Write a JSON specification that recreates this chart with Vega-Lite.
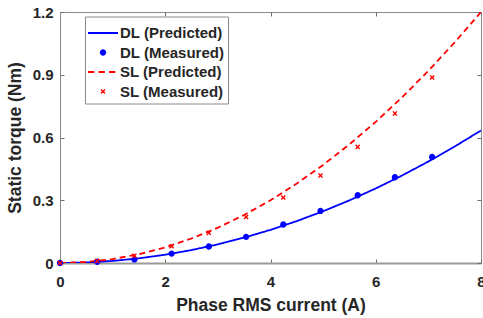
{
  "$schema": "https://vega.github.io/schema/vega-lite/v6.json",
  "width": 421,
  "height": 251,
  "autosize": {"type": "none"},
  "padding": {"left": 60, "top": 12, "right": 2, "bottom": 55},
  "background": "white",
  "config": {
    "view": {"stroke": "#8a8a8a", "strokeWidth": 1},
    "font": "Liberation Sans",
    "axis": {"grid": false}
  },
  "datasets": {
    "predicted": [
      {"series": "DL (Predicted)", "current": 0, "torque": 0},
      {"series": "DL (Predicted)", "current": 0.5, "torque": 0.0025},
      {"series": "DL (Predicted)", "current": 1, "torque": 0.0099},
      {"series": "DL (Predicted)", "current": 1.5, "torque": 0.0223},
      {"series": "DL (Predicted)", "current": 2, "torque": 0.0396},
      {"series": "DL (Predicted)", "current": 2.5, "torque": 0.0619},
      {"series": "DL (Predicted)", "current": 3, "torque": 0.0891},
      {"series": "DL (Predicted)", "current": 3.5, "torque": 0.1213},
      {"series": "DL (Predicted)", "current": 4, "torque": 0.1584},
      {"series": "DL (Predicted)", "current": 4.5, "torque": 0.2005},
      {"series": "DL (Predicted)", "current": 5, "torque": 0.2475},
      {"series": "DL (Predicted)", "current": 5.5, "torque": 0.2995},
      {"series": "DL (Predicted)", "current": 6, "torque": 0.3564},
      {"series": "DL (Predicted)", "current": 6.5, "torque": 0.4183},
      {"series": "DL (Predicted)", "current": 7, "torque": 0.4851},
      {"series": "DL (Predicted)", "current": 7.5, "torque": 0.5569},
      {"series": "DL (Predicted)", "current": 8, "torque": 0.6336},
      {"series": "SL (Predicted)", "current": 0, "torque": 0},
      {"series": "SL (Predicted)", "current": 0.5, "torque": 0.0047},
      {"series": "SL (Predicted)", "current": 1, "torque": 0.0188},
      {"series": "SL (Predicted)", "current": 1.5, "torque": 0.0422},
      {"series": "SL (Predicted)", "current": 2, "torque": 0.075},
      {"series": "SL (Predicted)", "current": 2.5, "torque": 0.1172},
      {"series": "SL (Predicted)", "current": 3, "torque": 0.1688},
      {"series": "SL (Predicted)", "current": 3.5, "torque": 0.2297},
      {"series": "SL (Predicted)", "current": 4, "torque": 0.3},
      {"series": "SL (Predicted)", "current": 4.5, "torque": 0.3797},
      {"series": "SL (Predicted)", "current": 5, "torque": 0.4688},
      {"series": "SL (Predicted)", "current": 5.5, "torque": 0.5672},
      {"series": "SL (Predicted)", "current": 6, "torque": 0.675},
      {"series": "SL (Predicted)", "current": 6.5, "torque": 0.7922},
      {"series": "SL (Predicted)", "current": 7, "torque": 0.9188},
      {"series": "SL (Predicted)", "current": 7.5, "torque": 1.0547},
      {"series": "SL (Predicted)", "current": 8, "torque": 1.2}
    ],
    "measured": [
      {"series": "DL (Measured)", "current": 0, "torque": 0},
      {"series": "DL (Measured)", "current": 0.707, "torque": 0.006},
      {"series": "DL (Measured)", "current": 1.414, "torque": 0.017},
      {"series": "DL (Measured)", "current": 2.121, "torque": 0.045},
      {"series": "DL (Measured)", "current": 2.828, "torque": 0.079},
      {"series": "DL (Measured)", "current": 3.536, "torque": 0.125},
      {"series": "DL (Measured)", "current": 4.243, "torque": 0.184},
      {"series": "DL (Measured)", "current": 4.95, "torque": 0.249},
      {"series": "DL (Measured)", "current": 5.657, "torque": 0.324},
      {"series": "DL (Measured)", "current": 6.364, "torque": 0.41},
      {"series": "DL (Measured)", "current": 7.071, "torque": 0.507},
      {"series": "SL (Measured)", "current": 0, "torque": 0},
      {"series": "SL (Measured)", "current": 0.707, "torque": 0.01},
      {"series": "SL (Measured)", "current": 1.414, "torque": 0.035},
      {"series": "SL (Measured)", "current": 2.121, "torque": 0.08},
      {"series": "SL (Measured)", "current": 2.828, "torque": 0.144},
      {"series": "SL (Measured)", "current": 3.536, "torque": 0.22},
      {"series": "SL (Measured)", "current": 4.243, "torque": 0.313},
      {"series": "SL (Measured)", "current": 4.95, "torque": 0.418},
      {"series": "SL (Measured)", "current": 5.657, "torque": 0.555},
      {"series": "SL (Measured)", "current": 6.364, "torque": 0.715},
      {"series": "SL (Measured)", "current": 7.071, "torque": 0.887}
    ]
  },
  "resolve": {"axis": {"x": "independent", "y": "independent"}},
  "layer": [
    {
      "data": {"name": "predicted"},
      "mark": {"type": "line", "strokeWidth": 1.8, "clip": true},
      "encoding": {
        "x": {
          "field": "current", "type": "quantitative",
          "scale": {"domain": [0, 8], "nice": false, "zero": false},
          "axis": {
            "title": "Phase RMS current (A)",
            "values": [0, 2, 4, 6, 8],
            "format": "d",
            "labelFont": "Liberation Sans", "labelFontSize": 15, "labelFontWeight": "bold", "labelColor": "#262626",
            "labelPadding": 15,
            "titleFont": "Liberation Sans", "titleFontSize": 17.5, "titleFontWeight": "bold", "titleColor": "#262626",
            "titlePadding": 7,
            "tickSize": -4, "tickColor": "#6f6f6f", "tickWidth": 1,
            "domainColor": "#9a9a9a", "domainWidth": 2,
            "labelFlush": false
          }
        },
        "y": {
          "field": "torque", "type": "quantitative",
          "scale": {"domain": [0, 1.2], "nice": false},
          "axis": {
            "title": "Static torque (Nm)",
            "values": [0, 0.3, 0.6, 0.9, 1.2],
            "labelExpr": "datum.value == 0 ? '0' : format(datum.value, '.1f')",
            "labelFont": "Liberation Sans", "labelFontSize": 15, "labelFontWeight": "bold", "labelColor": "#262626",
            "labelPadding": 11,
            "titleFont": "Liberation Sans", "titleFontSize": 17.5, "titleFontWeight": "bold", "titleColor": "#262626",
            "titlePadding": 8,
            "tickSize": -4, "tickColor": "#6f6f6f", "tickWidth": 1,
            "domainColor": "#8a8a8a", "domainWidth": 1,
            "labelFlush": false
          }
        },
        "color": {
          "field": "series", "type": "nominal",
          "scale": {
            "domain": ["DL (Predicted)", "DL (Measured)", "SL (Predicted)", "SL (Measured)"],
            "range": ["#0000ff", "#0000ff", "#ff0000", "#ff0000"]
          },
          "legend": {
            "title": " ", "titleFontSize": 1, "titlePadding": 4, "orient": "none", "legendX": 25, "legendY": 4.5,
            "strokeColor": "#8a8a8a", "fillColor": "white", "padding": 3,
            "labelFont": "Liberation Sans", "labelFontSize": 15, "labelFontWeight": "bold", "labelColor": "#262626",
            "symbolSize": 900, "rowPadding": 2.5, "clipHeight": 17, "labelOffset": 2, "symbolOffset": 0, "symbolStrokeWidth": 0,
            "encode": {"symbols": {"update": {"fill": {"scale": "color", "field": "value"}, "shape": {"scale": "shape", "field": "value"}, "stroke": {"value": "transparent"}, "opacity": {"value": 1}}}}
          }
        },
        "strokeDash": {
          "field": "series", "type": "nominal",
          "scale": {"domain": ["DL (Predicted)", "SL (Predicted)"], "range": [[1, 0], [6, 4]]},
          "legend": null
        }
      }
    },
    {
      "data": {"name": "measured"},
      "mark": {"type": "point", "filled": true, "size": 900, "opacity": 1, "strokeWidth": 0},
      "encoding": {
        "x": {
          "field": "current", "type": "quantitative",
          "axis": {"orient": "top", "title": null, "labels": false, "domain": false, "values": [0, 2, 4, 6, 8], "tickSize": -4, "tickColor": "#6f6f6f"}
        },
        "y": {
          "field": "torque", "type": "quantitative",
          "axis": {"orient": "right", "title": null, "labels": false, "domain": false, "values": [0, 0.3, 0.6, 0.9, 1.2], "tickSize": -4, "tickColor": "#6f6f6f"}
        },
        "color": {"field": "series", "type": "nominal"},
        "shape": {
          "field": "series", "type": "nominal",
          "scale": {
            "domain": ["DL (Predicted)", "DL (Measured)", "SL (Predicted)", "SL (Measured)"],
            "range": [
              "M-1,-0.06L1,-0.06L1,0.06L-1,0.06Z",
              "M-0.21,0A0.21,0.21,0,1,1,0.21,0A0.21,0.21,0,1,1,-0.21,0Z",
              "M-1,-0.06L-0.58,-0.06L-0.58,0.06L-1,0.06ZM-0.3,-0.06L0.12,-0.06L0.12,0.06L-0.3,0.06ZM0.4,-0.06L0.82,-0.06L0.82,0.06L0.4,0.06Z",
              "M-0.17,-0.105L-0.105,-0.17L0,-0.065L0.105,-0.17L0.17,-0.105L0.065,0L0.17,0.105L0.105,0.17L0,0.065L-0.105,0.17L-0.17,0.105L-0.065,0Z"
            ]
          },
          "legend": {
            "title": " ", "titleFontSize": 1, "titlePadding": 4, "orient": "none", "legendX": 25, "legendY": 4.5,
            "strokeColor": "#8a8a8a", "fillColor": "white", "padding": 3,
            "labelFont": "Liberation Sans", "labelFontSize": 15, "labelFontWeight": "bold", "labelColor": "#262626",
            "symbolSize": 900, "rowPadding": 2.5, "clipHeight": 17, "labelOffset": 2, "symbolOffset": 0, "symbolStrokeWidth": 0,
            "encode": {"symbols": {"update": {"fill": {"scale": "color", "field": "value"}, "shape": {"scale": "shape", "field": "value"}, "stroke": {"value": "transparent"}, "opacity": {"value": 1}}}}
          }
        }
      }
    }
  ]
}
